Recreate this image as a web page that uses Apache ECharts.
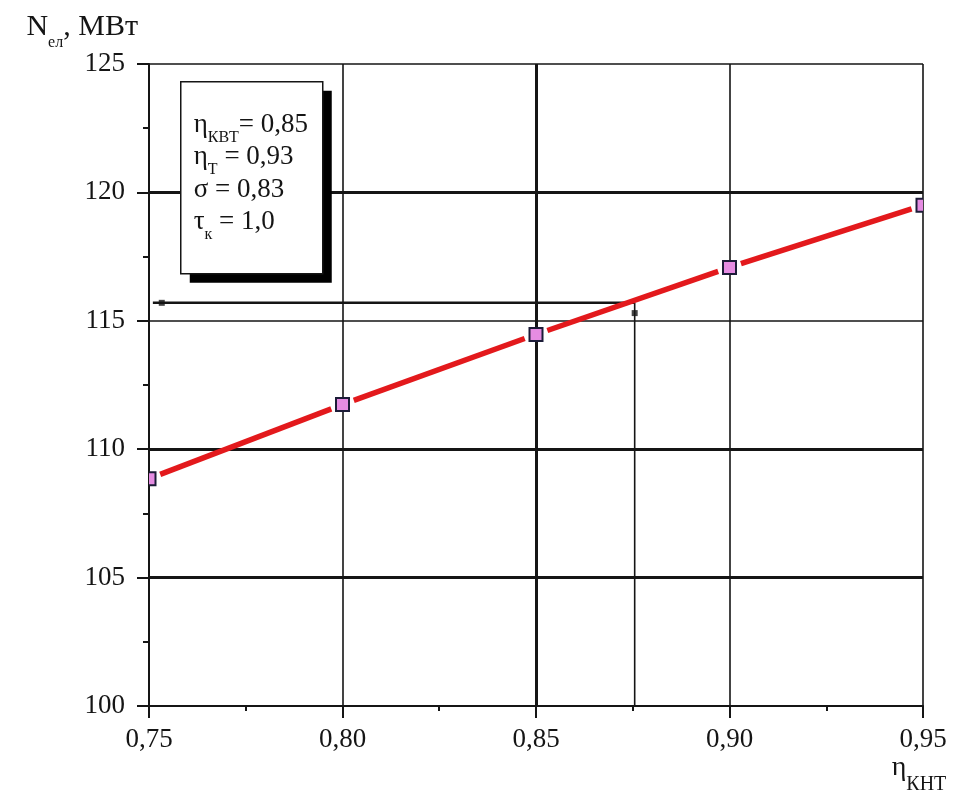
<!DOCTYPE html>
<html>
<head>
<meta charset="utf-8">
<script src="https://cdn.jsdelivr.net/npm/echarts@6/dist/echarts.min.js"></script>
<style>
  html, body { margin: 0; padding: 0; background: #ffffff; }
  #chart { width: 954px; height: 797px; }
</style>
</head>
<body>
<div id="chart"></div>
<script>
// Electric power vs. compressor efficiency
const etaKNT = [0.75, 0.80, 0.85, 0.90, 0.95];
const powerMW = [108.85, 111.74, 114.47, 117.08, 119.5];

// Axis ranges
const etaRange = [0.75, 0.95, 0.05];
const powerRange = [100, 125, 5];

// Heavier grid lines
const heavyPowerLines = [105, 110, 120];
const heavyEtaLines = [0.85];

// Read-off construction (horizontal + drop line)
const readStartEta = 0.751;
const readEta = 0.8755;
const readPower = 115.7;
const readMarks = [[0.7533, 115.7], [0.8755, 115.3]];

// Parameter box
const paramSymbols = ['η', 'η', 'σ', 'τ'];
const paramSubs = ['КВТ', 'Т', '', 'к'];
const paramValues = ['0,85', '0,93', '0,83', '1,0'];

const FONT = '"Liberation Serif", "Times New Roman", serif';
const INK = '#151515';
const RED = '#e3191c';

const segments = etaKNT.slice(1).map((x, i) => [etaKNT[i], powerMW[i], x, powerMW[i + 1]]);
const points = etaKNT.map((x, i) => [x, powerMW[i]]);

// One rich-text element per parameter line; tall line box pushes the subscript down
const paramLines = paramSymbols.map((s, i) => {
  const sub = paramSubs[i] ? '{s|' + paramSubs[i] + '}' : '';
  const sep = i === 0 ? '= ' : ' = ';
  return {
    type: 'text',
    x: 13,
    y: 43 + 32.5 * i,
    style: {
      text: '{m|' + s + '}' + sub + '{m|' + sep + paramValues[i] + '}',
      verticalAlign: 'middle',
      fontFamily: FONT,
      fontSize: 27,
      fill: INK,
      rich: {
        m: { fontFamily: FONT, fontSize: 27, fill: INK, lineHeight: 42 },
        s: { fontFamily: FONT, fontSize: 16, fill: INK, verticalAlign: 'bottom' }
      }
    }
  };
});

const chart = echarts.init(document.getElementById('chart'), null, { renderer: 'canvas' });

chart.setOption({
  animation: false,
  backgroundColor: '#ffffff',
  grid: { left: 149, right: 31, top: 64, bottom: 91, containLabel: false },
  xAxis: {
    type: 'value',
    min: etaRange[0], max: etaRange[1], interval: etaRange[2],
    axisLine: { show: true, onZero: false, lineStyle: { color: INK, width: 2 } },
    axisTick: { show: true, inside: false, length: 12, lineStyle: { color: INK, width: 2 } },
    minorTick: { show: true, splitNumber: 2, length: 5, lineStyle: { color: INK, width: 2 } },
    splitLine: { show: true, lineStyle: { color: INK, width: 1.6 } },
    axisLabel: {
      margin: 20, color: INK, fontFamily: FONT, fontSize: 27,
      showMinLabel: true, showMaxLabel: true,
      formatter: v => v.toFixed(2).replace('.', ',')
    },
    name: '{m|η}{s|КНТ}',
    nameLocation: 'end',
    nameGap: -4,
    nameTextStyle: {
      align: 'center', verticalAlign: 'top', padding: [35, 0, 0, 0],
      rich: {
        m: { fontFamily: FONT, fontSize: 28, color: INK, lineHeight: 54 },
        s: { fontFamily: FONT, fontSize: 20, color: INK, verticalAlign: 'bottom' }
      }
    }
  },
  yAxis: {
    type: 'value',
    min: powerRange[0], max: powerRange[1], interval: powerRange[2],
    axisLine: { show: true, onZero: false, lineStyle: { color: INK, width: 2 } },
    axisTick: { show: true, inside: false, length: 12, lineStyle: { color: INK, width: 2 } },
    minorTick: { show: true, splitNumber: 2, length: 6, lineStyle: { color: INK, width: 2 } },
    splitLine: { show: true, lineStyle: { color: INK, width: 1.7 } },
    axisLabel: { margin: 24, color: INK, fontFamily: FONT, fontSize: 27 },
    name: '{m|N}{s|ел}{m|, МВт}',
    nameLocation: 'end',
    nameGap: 36,
    nameTextStyle: {
      align: 'right', verticalAlign: 'middle', padding: [0, 11, 0, 0],
      rich: {
        m: { fontFamily: FONT, fontSize: 30, color: INK, lineHeight: 46 },
        s: { fontFamily: FONT, fontSize: 16, color: INK, verticalAlign: 'bottom' }
      }
    }
  },
  series: [
    {
      name: 'readHoriz',
      type: 'line',
      data: [[readStartEta, readPower], [readEta, readPower]],
      symbol: 'none',
      lineStyle: { color: INK, width: 2.6 },
      silent: true,
      z: 3,
      markLine: {
        silent: true,
        symbol: ['none', 'none'],
        label: { show: false },
        animation: false,
        lineStyle: { color: INK, width: 3, type: 'solid' },
        data: heavyPowerLines.map(v => ({ yAxis: v })).concat(heavyEtaLines.map(v => ({ xAxis: v })))
      }
    },
    {
      name: 'readVert',
      type: 'line',
      data: [[readEta, readPower], [readEta, powerRange[0]]],
      symbol: 'none',
      lineStyle: { color: INK, width: 1.6 },
      silent: true,
      z: 3
    },
    {
      name: 'readMarks',
      type: 'scatter',
      data: readMarks,
      symbol: 'rect',
      symbolSize: 6,
      itemStyle: { color: INK },
      silent: true,
      z: 4
    },
    {
      // Curve drawn as segments with short gaps around each marker
      name: 'curve',
      type: 'custom',
      data: segments,
      clip: true,
      encode: { x: [0, 2], y: [1, 3] },
      z: 5,
      renderItem: (params, api) => {
        const p0 = api.coord([api.value(0), api.value(1)]);
        const p1 = api.coord([api.value(2), api.value(3)]);
        const dx = p1[0] - p0[0], dy = p1[1] - p0[1];
        const len = Math.sqrt(dx * dx + dy * dy);
        const ux = dx / len, uy = dy / len, gap = 12;
        return {
          type: 'line',
          shape: {
            x1: p0[0] + ux * gap, y1: p0[1] + uy * gap,
            x2: p1[0] - ux * gap, y2: p1[1] - uy * gap
          },
          style: { stroke: RED, lineWidth: 5.5, lineCap: 'butt' }
        };
      }
    },
    {
      name: 'points',
      type: 'custom',
      data: points,
      clip: true,
      encode: { x: 0, y: 1 },
      z: 6,
      renderItem: (params, api) => {
        const p = api.coord([api.value(0), api.value(1)]);
        const s = 13;
        return {
          type: 'rect',
          shape: { x: p[0] - s / 2, y: p[1] - s / 2, width: s, height: s },
          style: { fill: '#e58ce2', stroke: '#1c1c38', lineWidth: 2 }
        };
      }
    }
  ],
  graphic: [
    {
      type: 'group',
      left: 180,
      top: 81,
      z: 100,
      children: [
        { type: 'rect', z: 100, shape: { x: 9, y: 9, width: 142, height: 192 }, style: { fill: '#000000' } },
        { type: 'rect', z: 101, shape: { x: 0, y: 0, width: 142, height: 192 }, style: { fill: '#ffffff', stroke: INK, lineWidth: 1.5 } }
      ].concat(paramLines.map(t => Object.assign({ z: 102 }, t)))
    }
  ]
});
</script>
</body>
</html>
